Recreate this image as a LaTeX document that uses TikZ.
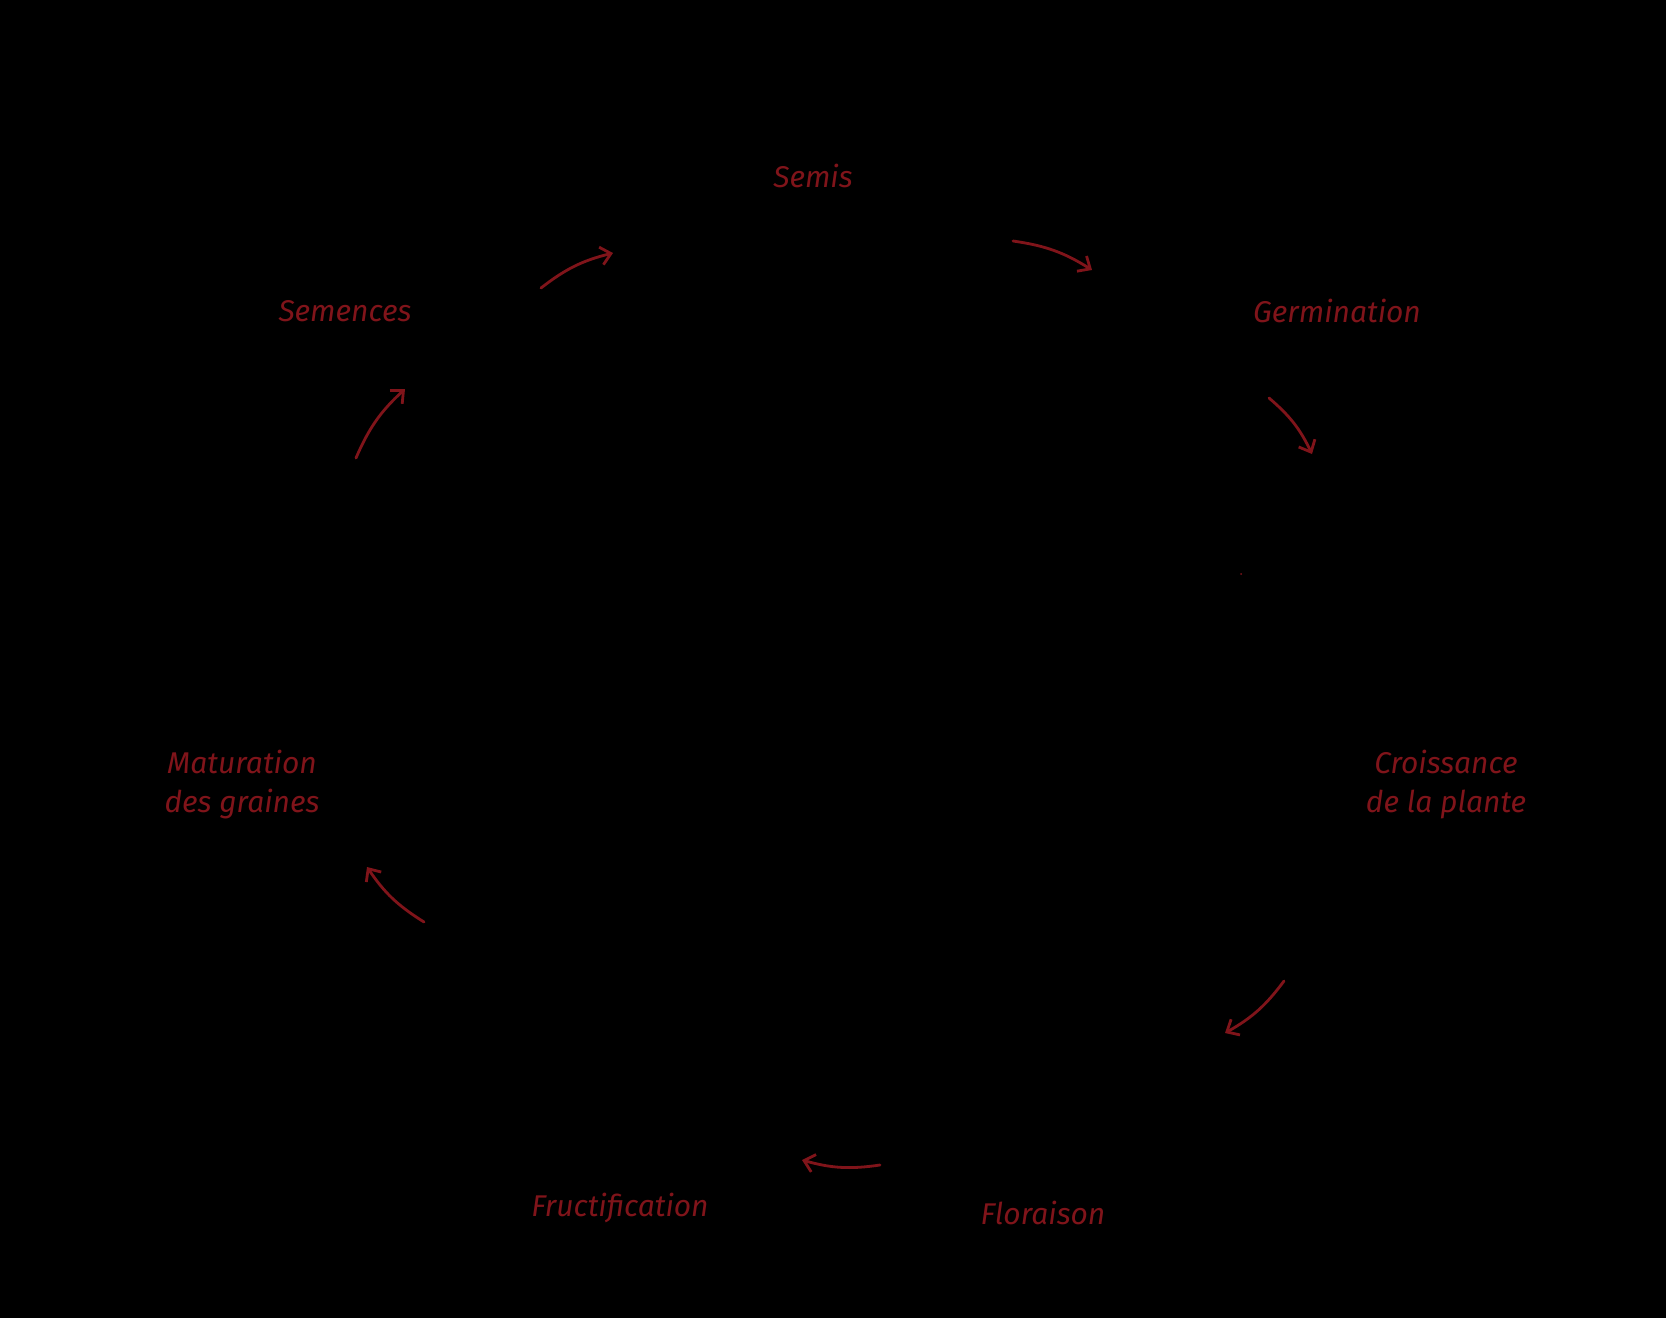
\documentclass[tikz,border=0pt]{standalone}
\usepackage{fontspec}
\setmainfont{Fira Sans}
\usetikzlibrary{arrows.meta}
\definecolor{lblred}{RGB}{128,20,26}
\tikzset{
  lbl/.style={text=lblred, font=\itshape\fontsize{15}{19.5}\selectfont, align=center, inner sep=0pt},
  cyc/.style={draw=lblred, line width=1.4pt, line cap=round, -{Straight Barb[length=5pt,width=9pt,line width=1.4pt]}, bend left=12}
}
\begin{document}
\begin{tikzpicture}[x=0.5pt,y=-0.5pt]
\fill[black] (0,0) rectangle (1666,1318);
\useasboundingbox (0,0) rectangle (1666,1318);
\node[lbl] (semis) at (813,176) {Semis};
\node[lbl] (germ) at (1337,311) {Germination};
\node[lbl] (crois) at (1446,785) {Croissance\\de la plante};
\node[lbl] (flor) at (1043,1213) {Floraison};
\node[lbl] (fruct) at (620,1208) {Fructification};
\node[lbl] (matur) at (242,785) {Maturation\\des graines};
\node[lbl] (semen) at (345,311) {Semences};
% arrow end points
\coordinate (a1s) at (541,288); \coordinate (a1e) at (613,253);
\coordinate (a2s) at (1013,241); \coordinate (a2e) at (1092,270);
\coordinate (a3s) at (1269,398); \coordinate (a3e) at (1312,454);
\coordinate (a4s) at (1284,981); \coordinate (a4e) at (1225,1033);
\coordinate (a5s) at (880,1165); \coordinate (a5e) at (802,1160);
\coordinate (a6s) at (424,922); \coordinate (a6e) at (367,867);
\coordinate (a7s) at (356,458); \coordinate (a7e) at (405,389);
\draw[cyc] (a1s) to (a1e);
\draw[cyc] (a2s) to (a2e);
\draw[cyc] (a3s) to (a3e);
\draw[cyc] (a4s) to (a4e);
\draw[cyc] (a5s) to (a5e);
\draw[cyc] (a6s) to (a6e);
\draw[cyc] (a7s) to (a7e);
\fill[lblred] (1241,574) circle (1);
\end{tikzpicture}
\end{document}
